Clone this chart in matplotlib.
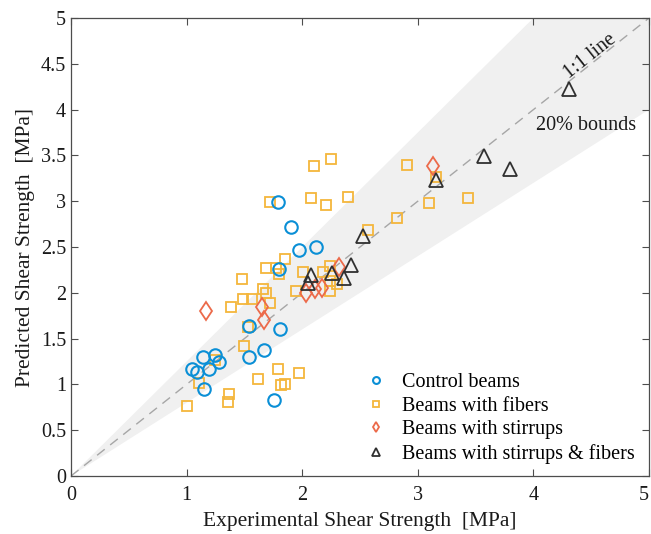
import numpy as np
import matplotlib
matplotlib.use("Agg")
import matplotlib.pyplot as plt

plt.rcParams['font.family'] = ['Liberation Serif', 'DejaVu Serif']

# data (MPa)
ctrl_x = [1.05, 1.09, 1.14, 1.19, 1.25, 1.28, 1.15, 1.54, 1.54, 1.67, 1.76, 1.81,
          1.80, 1.79, 1.905, 1.97, 2.12]
ctrl_y = [1.165, 1.13, 1.30, 1.165, 1.32, 1.25, 0.95, 1.30, 1.64, 1.38, 0.83, 1.61,
          2.26, 2.99, 2.715, 2.47, 2.50]

fib_x = [1.00, 1.11, 1.25, 1.36, 1.37, 1.62, 1.79, 1.82, 1.85, 1.97, 1.50, 1.535,
         1.385, 1.49, 1.565, 1.48, 1.665, 1.69, 1.72, 1.69, 1.77, 1.80, 1.85, 1.72,
         2.01, 1.945, 2.24, 2.18, 2.24, 2.24, 2.30, 2.10, 2.25, 2.08, 2.205, 2.40,
         2.91, 3.43, 3.10, 2.82, 2.57, 3.16]
fib_y = [0.76, 1.01, 1.27, 0.81, 0.895, 1.06, 1.165, 0.99, 1.00, 1.12, 1.42, 1.63,
         1.84, 1.93, 1.93, 2.15, 2.04, 2.00, 1.89, 2.27, 2.27, 2.21, 2.37, 2.99,
         2.23, 2.02, 2.29, 2.23, 2.02, 2.13, 2.10, 3.38, 3.46, 3.04, 2.955, 3.05,
         3.39, 3.03, 2.98, 2.82, 2.69, 3.26]

stir_x = [1.165, 1.65, 1.67, 2.03, 2.11, 2.17, 2.32, 3.13]
stir_y = [1.80, 1.84, 1.70, 2.00, 2.04, 2.05, 2.28, 3.38]

sf_x = [2.05, 2.08, 2.26, 2.36, 2.42, 2.53, 3.155, 3.57, 3.80, 4.31]
sf_y = [2.11, 2.19, 2.22, 2.16, 2.30, 2.62, 3.23, 3.49, 3.35, 4.22]

fig = plt.figure(figsize=(6.51, 5.34), dpi=100)
ax = fig.add_axes([0.109, 0.1086, 0.888, 0.8577])

# 20% bounds band and 1:1 line
xb = np.array([0, 5])
ax.fill_between(xb, 0.8 * xb, 1.25 * xb, color='#f0f0f0', lw=0, zorder=0)
ax.plot(xb, xb, ls=(0, (7, 5)), color='#a6a6a6', lw=1.0, zorder=1)

ax.plot(ctrl_x, ctrl_y, 'o', ms=9, mfc='none', mec='#0a8fd6', mew=1.5,
        label='Control beams', zorder=3)
ax.plot(fib_x, fib_y, 's', ms=6.8, mfc='none', mec='#f4b63c', mew=1.3,
        label='Beams with fibers', zorder=2)
ax.plot(stir_x, stir_y, 'd', ms=9.5, mfc='none', mec='#ec6a4a', mew=1.3,
        label='Beams with stirrups', zorder=3)
ax.plot(sf_x, sf_y, '^', ms=9.5, mfc='none', mec='#303030', mew=1.3,
        label='Beams with stirrups & fibers', zorder=4)

ax.text(4.49, 4.58, '1:1 line', rotation=38.5, ha='center', va='center',
        fontsize=14.5, color='#1a1a1a')
ax.text(4.02, 3.83, '20% bounds', ha='left', va='center', fontsize=14.5,
        color='#1a1a1a')

ax.set_xlim(0, 5)
ax.set_ylim(0, 5)
ax.set_xticks([0, 1, 2, 3, 4, 5])
ax.set_yticks(np.arange(0, 5.01, 0.5))
ax.set_yticklabels(['0', '0.5', '1', '1.5', '2', '2.5', '3', '3.5', '4', '4.5', '5'])
ax.tick_params(direction='in', top=True, right=True, labelsize=14.5,
               colors='#4d4d4d', labelcolor='#1a1a1a', length=5)
ax.tick_params(axis='x', pad=7)
# the last x label sits on the figure edge; keep it inside
ax.get_xticklabels()[-1].set_horizontalalignment('right')
for s in ax.spines.values():
    s.set_color('#4d4d4d')
    s.set_linewidth(0.9)

ax.set_xlabel('Experimental Shear Strength  [MPa]', fontsize=15.5, color='#1a1a1a',
              labelpad=5)
ax.set_ylabel('Predicted Shear Strength  [MPa]', fontsize=15.5, color='#1a1a1a',
              labelpad=4)

ax.legend(loc='lower right', bbox_to_anchor=(1.006, -0.013), frameon=False,
          fontsize=14.5, markerscale=0.55, handlelength=1.1, handletextpad=0.7,
          labelspacing=0.22)

fig.savefig('out.png', dpi=100)
